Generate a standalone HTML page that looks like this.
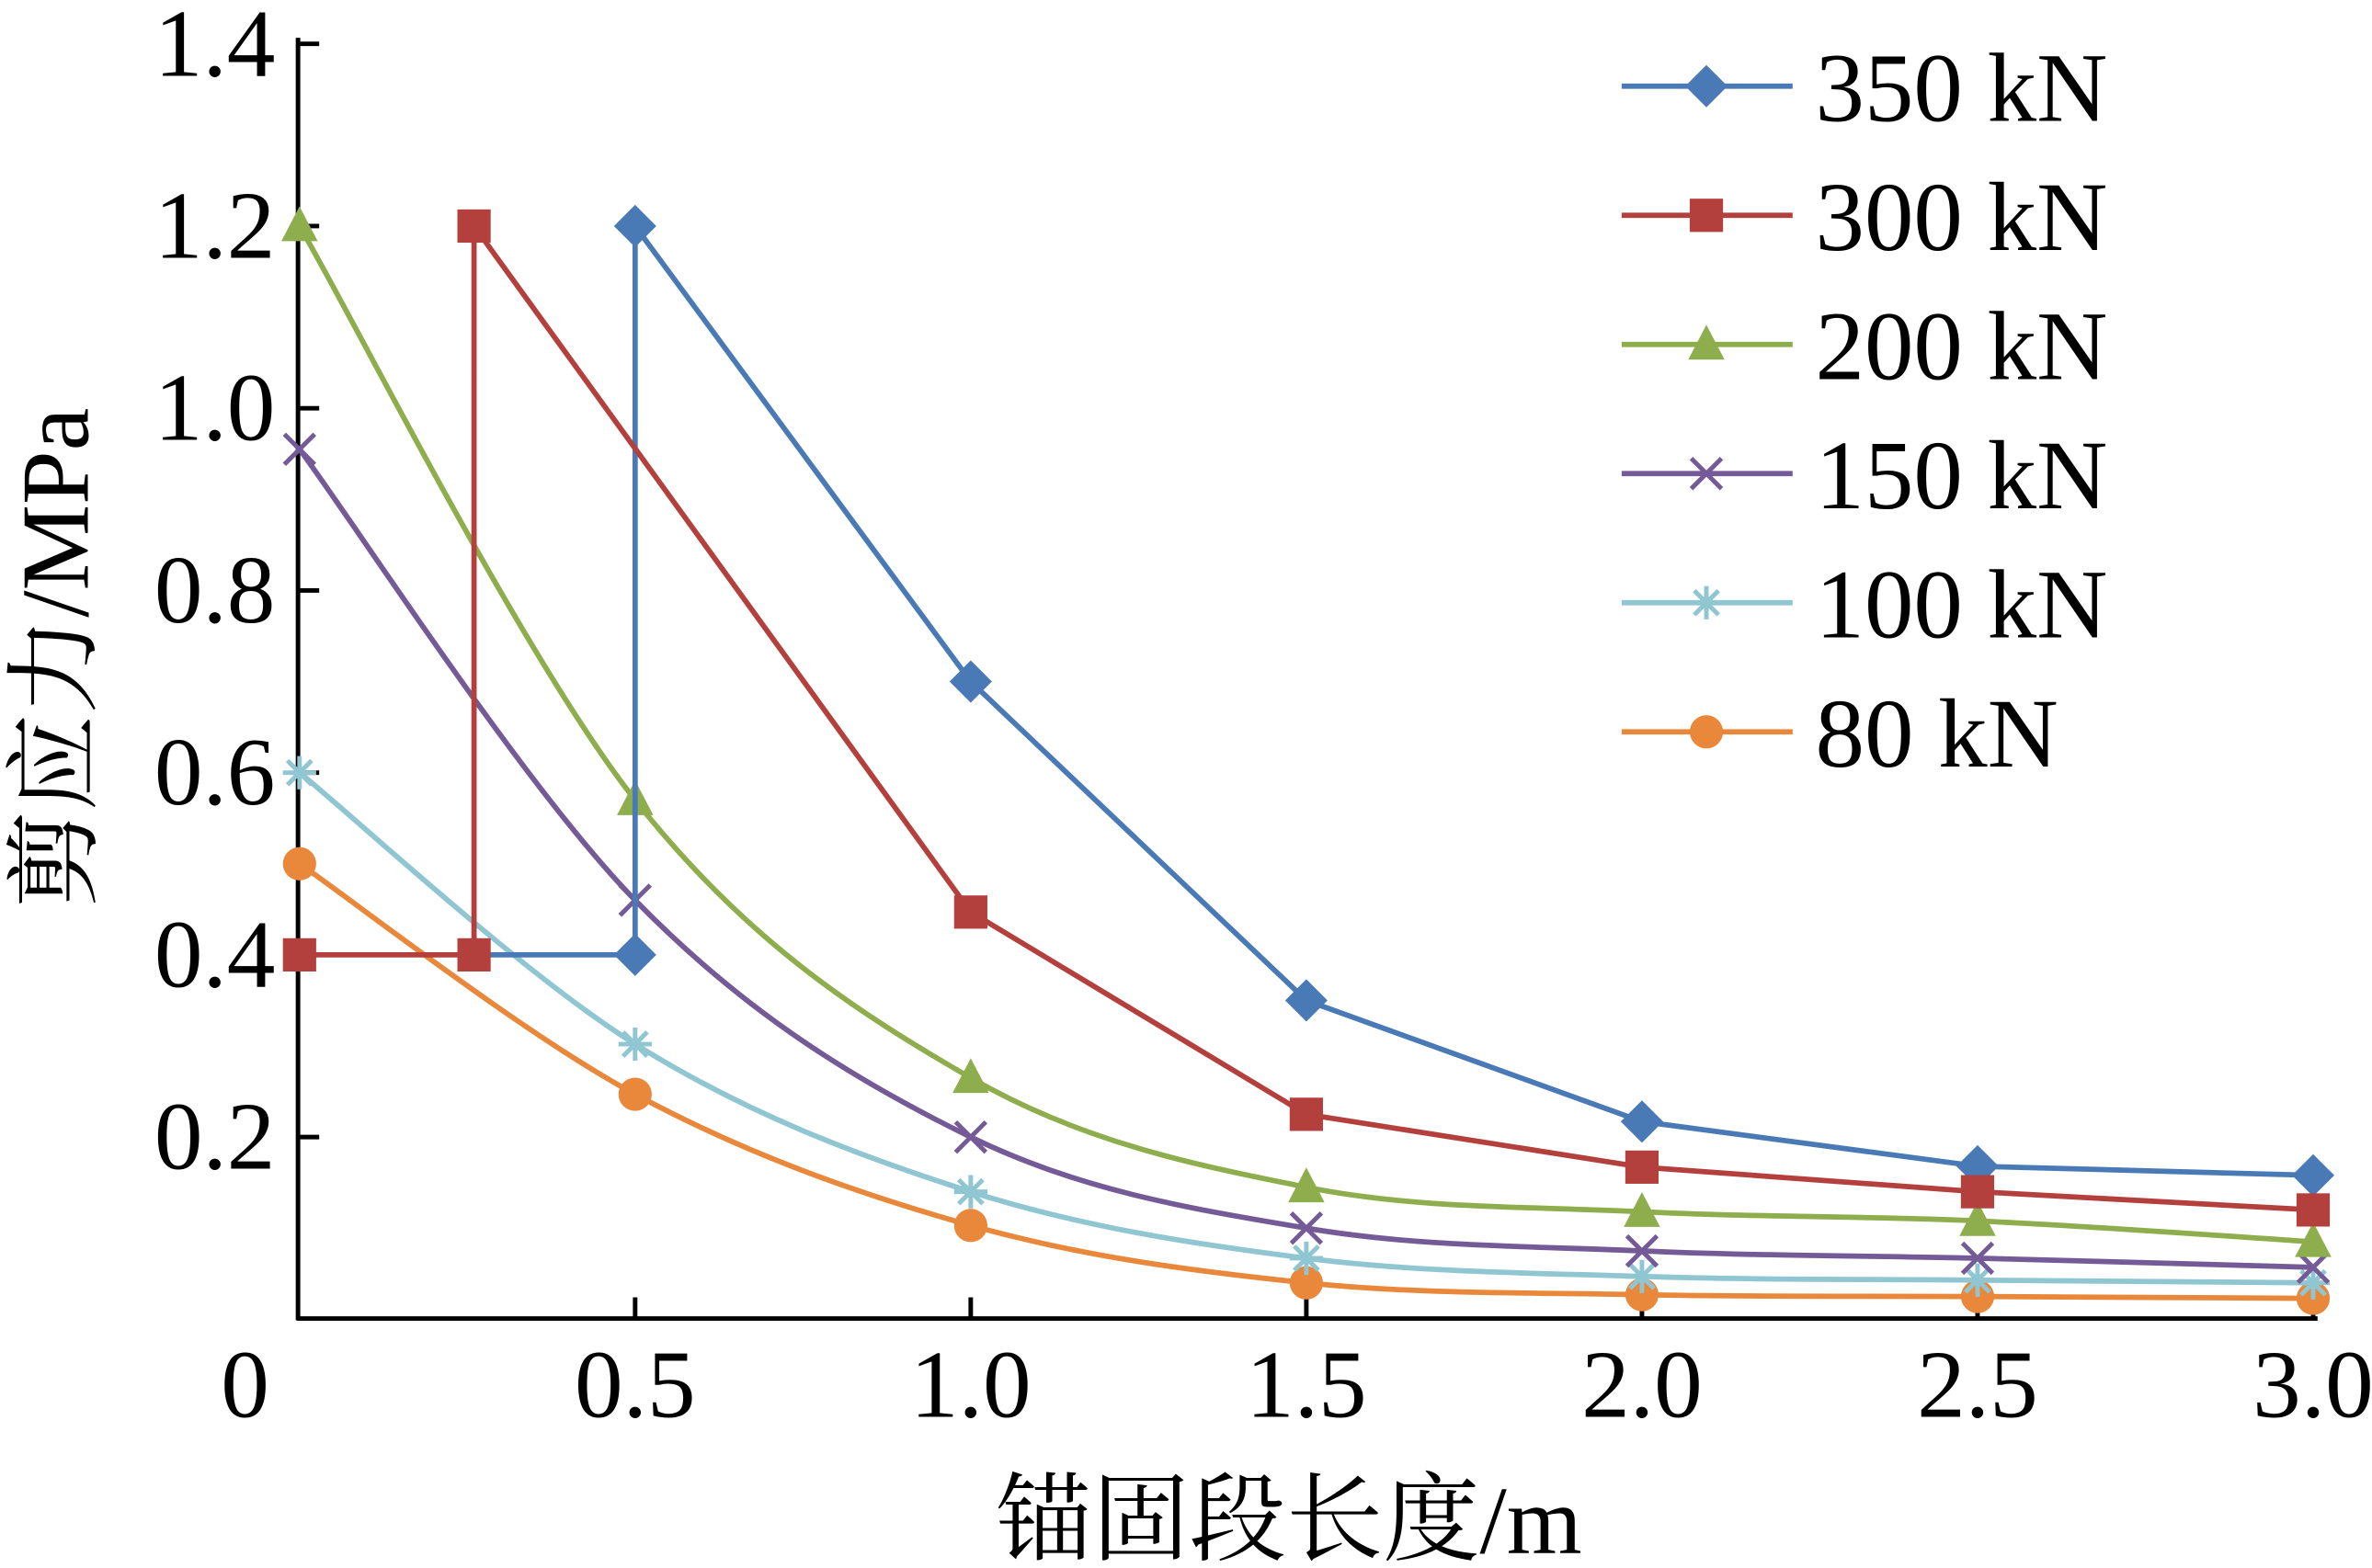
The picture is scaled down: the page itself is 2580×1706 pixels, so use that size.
<!DOCTYPE html>
<html><head><meta charset="utf-8"><style>html,body{margin:0;padding:0;background:#fff}svg{display:block}</style></head>
<body>
<svg id="chart" width="2580" height="1706" viewBox="0 0 1568 1037" preserveAspectRatio="none" xmlns="http://www.w3.org/2000/svg" font-family="'Liberation Serif','Noto Serif CJK SC',serif">
</svg>
<script>
const xs = [0, 0.5, 1.0, 1.5, 2.0, 2.5, 3.0];
const s350x = [0.26, 0.5, 0.5, 1.0, 1.5, 2.0, 2.5, 3.0];
const s350y = [0.4, 0.4, 1.2, 0.7, 0.35, 0.217, 0.168, 0.158];
const s300x = [0, 0.26, 0.26, 1.0, 1.5, 2.0, 2.5, 3.0];
const s300y = [0.4, 0.4, 1.2, 0.447, 0.225, 0.167, 0.14, 0.12];
const s200y = [1.2, 0.57, 0.265, 0.145, 0.118, 0.108, 0.085];
const s150y = [0.955, 0.46, 0.2, 0.1, 0.075, 0.067, 0.057];
const s100y = [0.6, 0.302, 0.14, 0.067, 0.047, 0.043, 0.04];
const s80y = [0.5, 0.247, 0.103, 0.04, 0.027, 0.025, 0.023];
const xTicks = [0.5, 1.0, 1.5, 2.0, 2.5, 3.0];
const xTickLabels = ["0.5","1.0","1.5","2.0","2.5","3.0"];
const yTicks = [0.2, 0.4, 0.6, 0.8, 1.0, 1.2, 1.4];
const yTickLabels = ["0.2","0.4","0.6","0.8","1.0","1.2","1.4"];
const legendLabels = ["350 kN","300 kN","200 kN","150 kN","100 kN","80 kN"];

const NS="http://www.w3.org/2000/svg";
const svg=document.getElementById('chart');
const X=v=>198+v*443.7;
const Y=v=>872.5-v*602.5;
function el(t,a,p){const e=document.createElementNS(NS,t);for(const k in a)e.setAttribute(k,a[k]);(p||svg).appendChild(e);return e;}

let ax=el('line',{x1:197,y1:25,x2:197,y2:873,stroke:'#000','stroke-width':3});


ax=el('line',{x1:196,y1:872,x2:1532,y2:872,stroke:'#000','stroke-width':3});


yTicks.forEach((v,i)=>{
  const t=el('line',{x1:197,x2:211,y1:Y(v),y2:Y(v),stroke:'#000','stroke-width':3});
  
  
  const l=el('text',{x:182,y:Y(v)+21,'font-size':64,'text-anchor':'end'});
  l.textContent=yTickLabels[i];
  
  
});
xTicks.forEach((v,i)=>{
  const t=el('line',{x1:X(v),x2:X(v),y1:872,y2:858,stroke:'#000','stroke-width':3});
  
  
  const l=el('text',{x:X(v),y:937,'font-size':64,'text-anchor':'middle'});
  l.textContent=xTickLabels[i];
  
  
});
let z=el('text',{x:162,y:937,'font-size':64,'text-anchor':'middle'});z.textContent='0';


let xt=el('text',{x:852,y:1027,'font-size':64,'text-anchor':'middle'});xt.textContent='锚固段长度/m';


let yt=el('text',{x:0,y:0,'font-size':64,'text-anchor':'middle',transform:'translate(58,435) rotate(-90)'});yt.textContent='剪应力/MPa';



function straight(px,py){return px.map((x,i)=>(i?'L':'M')+X(x)+','+Y(py[i])).join(' ');}
function smooth(px,py){
  const P=px.map((x,i)=>[X(x),Y(py[i])]);let d='M'+P[0];const k=1/6;
  for(let i=0;i<P.length-1;i++){
    const p0=P[Math.max(0,i-1)],p1=P[i],p2=P[i+1],p3=P[Math.min(P.length-1,i+2)];
    d+=' C'+(p1[0]+(p2[0]-p0[0])*k)+','+(p1[1]+(p2[1]-p0[1])*k)+' '+(p2[0]-(p3[0]-p1[0])*k)+','+(p2[1]-(p3[1]-p1[1])*k)+' '+p2[0]+','+p2[1];
  }return d;
}
function marker(type,cx,cy,c,g){
  let m;
  if(type==='diamond')m=el('polygon',{points:`${cx},${cy-14} ${cx+14},${cy} ${cx},${cy+14} ${cx-14},${cy}`,fill:c},g);
  else if(type==='square')m=el('rect',{x:cx-11,y:cy-11,width:22,height:22,fill:c},g);
  else if(type==='triangle')m=el('polygon',{points:`${cx},${cy-13} ${cx+12},${cy+10} ${cx-12},${cy+10}`,fill:c},g);
  else if(type==='x')m=el('path',{d:`M${cx-10},${cy-10}L${cx+10},${cy+10}M${cx+10},${cy-10}L${cx-10},${cy+10}`,stroke:c,'stroke-width':3},g);
  else if(type==='star')m=el('path',{d:`M${cx-11},${cy}L${cx+11},${cy}M${cx},${cy-11}L${cx},${cy+11}M${cx-8},${cy-8}L${cx+8},${cy+8}M${cx+8},${cy-8}L${cx-8},${cy+8}`,stroke:c,'stroke-width':3},g);
  else m=el('circle',{cx,cy,r:11,fill:c},g);
  
  
}
const series=[
 {name:'series-80kn',x:xs,y:s80y,c:'#e9873a',m:'circle',s:true,skip:-1},
 {name:'series-100kn',x:xs,y:s100y,c:'#8fc6d2',m:'star',s:true,skip:-1},
 {name:'series-150kn',x:xs,y:s150y,c:'#745b97',m:'x',s:true,skip:-1},
 {name:'series-200kn',x:xs,y:s200y,c:'#8ead4d',m:'triangle',s:true,skip:-1},
 {name:'series-350kn',x:s350x,y:s350y,c:'#4a7ab6',m:'diamond',s:false,skip:0},
 {name:'series-300kn',x:s300x,y:s300y,c:'#b3403c',m:'square',s:false,skip:-1},
];
series.forEach(s=>{
  const g=el('g',{});
  
  
  const p=el('path',{d:s.s?smooth(s.x,s.y):straight(s.x,s.y),fill:'none',stroke:s.c,'stroke-width':3.5},g);
  
  
  s.x.forEach((x,i)=>{if(i!==s.skip)marker(s.m,X(x),Y(s.y[i]),s.c,g);});
});
const lg=el('g',{});


const order=[4,5,3,2,1,0];
order.forEach((si,i)=>{
  const s=series[si];const y=57+i*85.4;
  const e=el('g',{},lg);
  
  
  el('line',{x1:1072,x2:1185,y1:y,y2:y,stroke:s.c,'stroke-width':3.5},e);
  marker(s.m,1128,y,s.c,e);
  const t=el('text',{x:1200,y:y+23,'font-size':65},e);t.textContent=legendLabels[i];
});
</script>
</body></html>
